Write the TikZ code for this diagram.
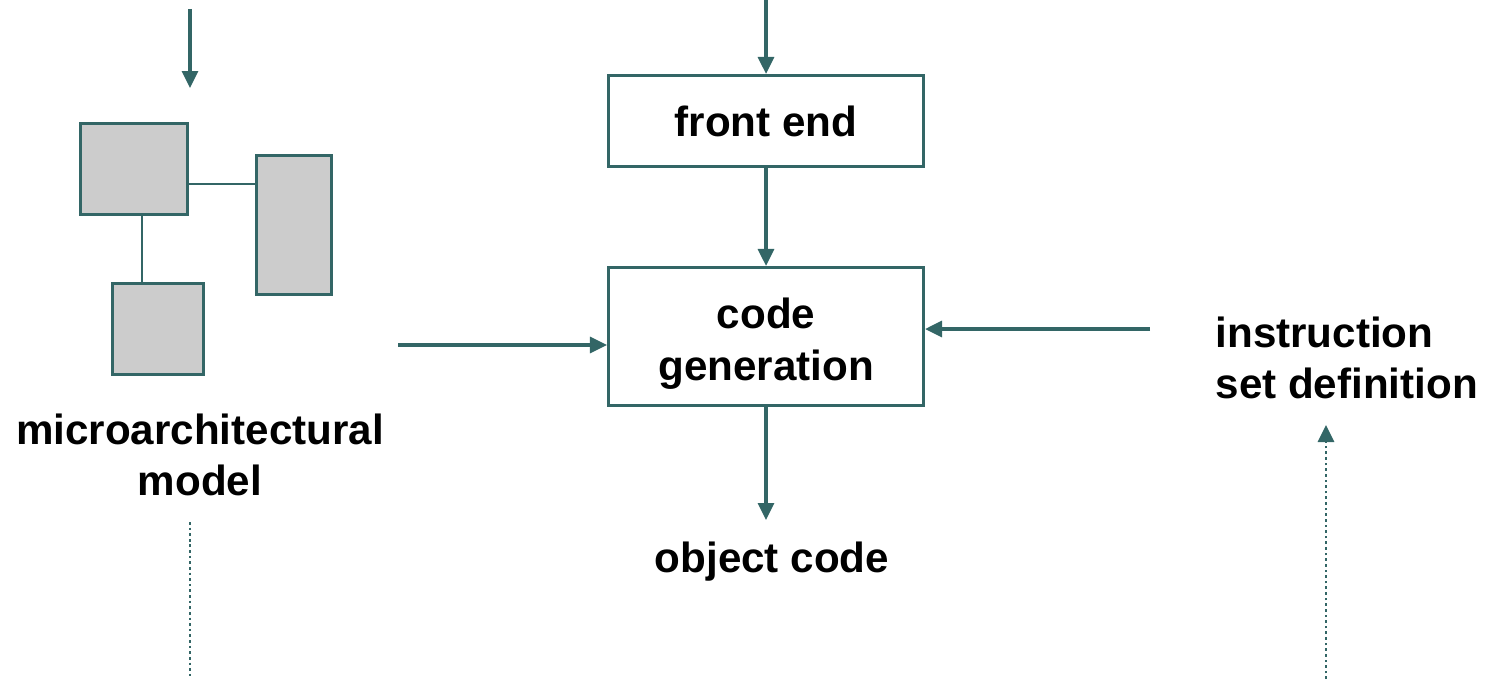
\documentclass[tikz,border=0pt]{standalone}
\usepackage{fontspec}
\setmainfont{Liberation Sans}
\usetikzlibrary{arrows.meta, positioning}
\definecolor{slate}{HTML}{336666}
\definecolor{boxgray}{HTML}{CCCCCC}

\begin{document}
\begin{tikzpicture}[
		x=0.02cm, y=-0.02cm,
		line width=1.8pt,
		>={Triangle[length=0.34cm, width=0.32cm]},
		every node/.style={font=\bfseries\fontsize{24}{29.5}\selectfont},
		stage/.style={draw=slate, minimum width=6.3cm},
		unit/.style={draw=slate, fill=boxgray},
		flow/.style={draw=slate, ->},
		link/.style={draw=slate, line width=1.3pt},
		hint/.style={draw=slate, line width=1.6pt, dash pattern=on 1.5pt off 1.7pt}
	]
	\useasboundingbox (0,0) rectangle (1486,679);

	\node[stage, minimum height=1.82cm] (front) at (766,121) {front end};
	\node[stage, minimum height=2.76cm,
		label={[align=center, yshift=-0.14cm]center:code\\generation}] (codegen) at (766,336.5) {};
	\node (objcode) at (772,562) {object code};

	\node[unit, minimum width=2.14cm, minimum height=1.82cm] (unitA) at (134,169) {};
	\node[unit, minimum width=1.5cm, minimum height=2.78cm] (unitB) at (294,225) {};
	\node[unit, minimum width=1.82cm, minimum height=1.82cm] (unitC) at (158,329) {};
	\node[align=center] (uarch) at (200,455) {microarchitectural\\model};
	\node[align=left, anchor=west, inner sep=0pt] (isa) at (1214,358) {instruction\\set definition};

	\coordinate (uarchsrc) at (190,9);
	\coordinate (uarchtip) at (190,88);
	\coordinate (frontsrc) at (766,0);
	\coordinate (uarchout) at (398,345);
	\coordinate (isaout) at (1150,329);
	\coordinate (objtip) at (766,520);
	\coordinate (uarchdot) at (190,522);
	\coordinate (uarchend) at (190,679);
	\coordinate (isadot) at (1326,679);
	\coordinate (isatip) at (1326,425);

	\draw[link] ([yshift=-0.3cm]unitA.east) -- ([yshift=-0.3cm]unitA.east -| unitB.west);
	\draw[link] ([xshift=0.16cm]unitA.south) -- ([xshift=0.16cm]unitA.south |- unitC.north);

	\draw[flow] (uarchsrc) -- (uarchtip);
	\draw[flow] (frontsrc) -- (front);
	\draw[flow] (front) -- (codegen);
	\draw[flow] (uarchout) -- (uarchout -| codegen.west);
	\draw[flow] (isaout) -- (isaout -| codegen.east);
	\draw[flow] (codegen) -- (objtip);
	\draw[hint] (uarchdot) -- (uarchend);
	\draw[hint, ->] (isadot) -- (isatip);
\end{tikzpicture}
\end{document}
